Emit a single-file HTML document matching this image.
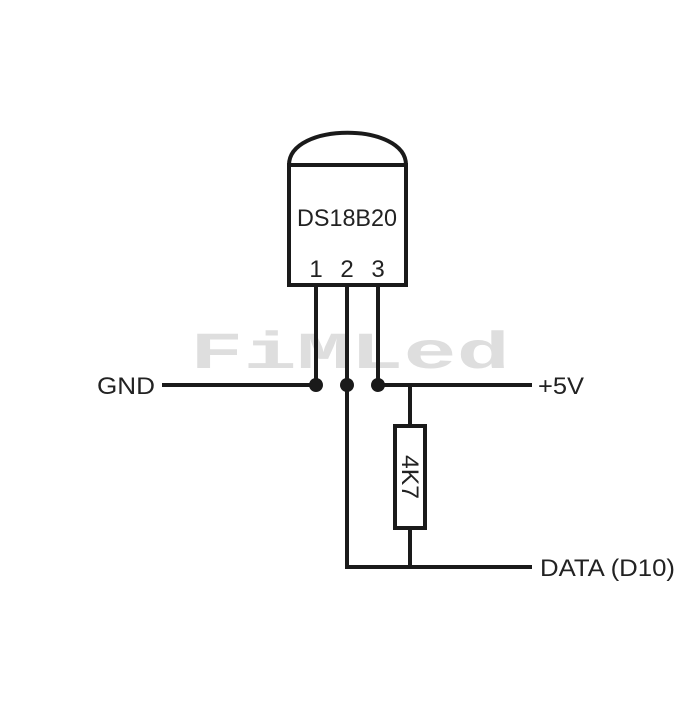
<!DOCTYPE html>
<html><head><style>body{margin:0;background:#fff}</style></head><body>
<svg width="700" height="700" xmlns="http://www.w3.org/2000/svg" font-family="Liberation Sans, sans-serif">
<rect width="700" height="700" fill="#fff"/>
<text x="190" y="368" font-size="52" font-weight="bold" fill="#dedede" textLength="320" lengthAdjust="spacingAndGlyphs" font-family="Liberation Mono, monospace">FiMLed</text>
<g stroke="#1a1a1a" stroke-width="4" fill="none">
<path d="M289,165 C289,122 406,122 406,165"/>
<rect x="289" y="165" width="117" height="120"/>
<path d="M316,285 V385 M347,285 V567 H532 M378,285 V385 M162,385 H316 M378,385 H532 M410,385 V426 M410,528 V567"/>
<rect x="395" y="426" width="30" height="102"/>
</g>
<g fill="#1a1a1a"><circle cx="316" cy="385" r="7"/><circle cx="347" cy="385" r="7"/><circle cx="378" cy="385" r="7"/></g>
<g fill="#222" font-size="24">
<text x="347" y="226" text-anchor="middle" textLength="100" lengthAdjust="spacingAndGlyphs">DS18B20</text>
<text x="316" y="277" text-anchor="middle">1</text>
<text x="347" y="277" text-anchor="middle">2</text>
<text x="378" y="277" text-anchor="middle">3</text>
<text x="97" y="394" textLength="58" lengthAdjust="spacingAndGlyphs">GND</text>
<text x="538" y="394" textLength="46" lengthAdjust="spacingAndGlyphs">+5V</text>
<text x="540" y="576" textLength="135" lengthAdjust="spacingAndGlyphs">DATA (D10)</text>
<text x="0" y="0" transform="translate(402,477) rotate(90)" text-anchor="middle" textLength="44" lengthAdjust="spacingAndGlyphs">4K7</text>
</g>
</svg>
</body></html>
